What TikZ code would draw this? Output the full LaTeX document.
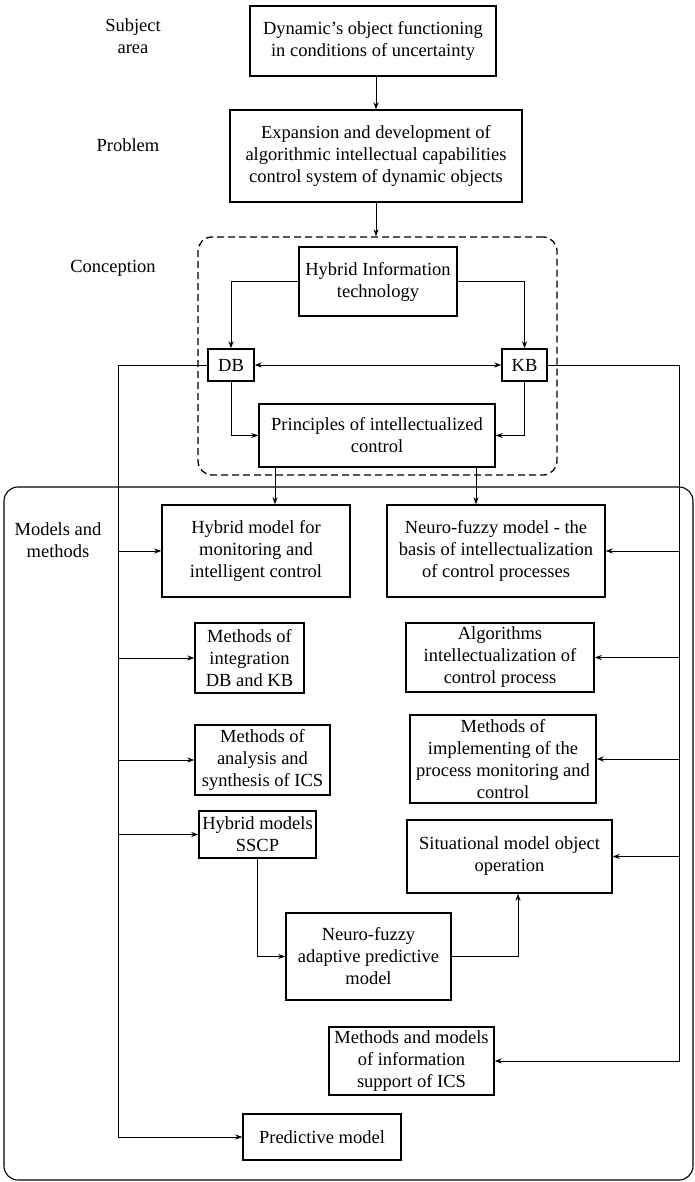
\documentclass[tikz,border=0pt]{standalone}
\usepackage{fontspec}
\setmainfont{Liberation Serif}
\newfontfamily\boxfont{Liberation Serif}
\usetikzlibrary{arrows.meta}
\begin{document}
\begin{tikzpicture}[x=1pt,y=-1pt,line width=1pt,>={Stealth[length=7pt,width=5pt]},
   box/.style={draw,line width=1.4pt,align=center,inner sep=1pt,font=\boxfont\fontsize{18.5}{22}\selectfont},
   lbl/.style={align=center,font=\boxfont\fontsize{18.5}{22}\selectfont}]
   \useasboundingbox (0,0) rectangle (695,1182);
   \node[draw,line width=1.1pt,rounded corners=14pt,minimum width=689pt,minimum height=693pt] (mm) at (348.5,833.5) {};
   \node[draw,line width=1.3pt,dash pattern=on 7pt off 4pt,rounded corners=14pt,minimum width=359pt,minimum height=238pt] (conc) at (377.5,356) {};
   \node[lbl] (lsubj) at (133,36) {Subject\\area};
   \node[lbl] (lprob) at (128,145) {Problem};
   \node[lbl] (lconc) at (113,268) {Conception};
   \node[lbl] (lmm) at (58,540) {Models and\\methods};
   \node[box,minimum width=246pt,minimum height=70pt] (subj) at (373,41) {Dynamic’s object functioning\\in conditions of uncertainty};
   \node[box,minimum width=292pt,minimum height=92pt] (prob) at (376,156) {Expansion and development of\\algorithmic intellectual capabilities\\control system of dynamic objects};
   \node[box,minimum width=158pt,minimum height=69pt] (hit) at (378,281.5) {Hybrid Information\\technology};
   \node[box,minimum width=46pt,minimum height=32pt] (db) at (231,365) {DB};
   \node[box,minimum width=45pt,minimum height=32pt] (kb) at (524.5,365) {KB};
   \node[box,minimum width=236pt,minimum height=63pt] (prin) at (377,435.5) {Principles of intellectualized\\control};
   \node[box,minimum width=188pt,minimum height=92pt] (hyb) at (256,551) {Hybrid model for\\monitoring and\\intelligent control};
   \node[box,minimum width=218pt,minimum height=92pt] (nfm) at (496,551) {Neuro-fuzzy model - the\\basis of intellectualization\\of control processes};
   \node[box,minimum width=109pt,minimum height=70pt] (mint) at (249.5,658) {Methods of\\integration\\DB and KB};
   \node[box,minimum width=188pt,minimum height=69pt] (alg) at (500,657.5) {Algorithms\\intellectualization of\\control process};
   \node[box,minimum width=135pt,minimum height=70pt] (mana) at (262.5,760) {Methods of\\analysis and\\synthesis of ICS};
   \node[box,minimum width=186pt,minimum height=88pt] (mimp) at (503,759) {Methods of\\implementing of the\\process monitoring and\\control};
   \node[box,minimum width=117pt,minimum height=47pt] (sscp) at (257.5,834.5) {Hybrid models\\SSCP};
   \node[box,minimum width=205pt,minimum height=73pt] (sit) at (509.5,856.5) {Situational model object\\operation};
   \node[box,minimum width=165pt,minimum height=87pt] (nfa) at (368.5,956.5) {Neuro-fuzzy\\adaptive predictive\\model};
   \node[box,minimum width=165pt,minimum height=68pt] (info) at (411.5,1061) {Methods and models\\of information\\support of ICS};
   \node[box,minimum width=158pt,minimum height=46pt] (pred) at (322,1137) {Predictive model};
   \coordinate (lt) at (118,365);
   \coordinate (rt) at (679,365);
   \draw[->] (subj.south -| prob.north) -- (prob.north);
   \draw[->] (prob.south) -- (prob.south |- conc.north);
   \draw[->] (hit.west) -| (db.north);
   \draw[->] (hit.east) -| (kb.north);
   \draw[<->] (db.east) -- (kb.west);
   \draw[->] (db.south) |- (prin.west);
   \draw[->] (kb.south) |- (prin.east);
   \draw[->] ([xshift=-102pt]prin.south) -- ([xshift=-102pt]prin.south |- hyb.north);
   \draw[->] ([xshift=99pt]prin.south) -- ([xshift=99pt]prin.south |- nfm.north);
   \draw[->] (db.west) -- (lt) |- (pred.west);
   \draw[->] (kb.east) -- (rt) |- (info.east);
   \draw[->] (lt |- hyb.west) -- (hyb.west);
   \draw[->] (lt |- mint.west) -- (mint.west);
   \draw[->] (lt |- mana.west) -- (mana.west);
   \draw[->] (lt |- sscp.west) -- (sscp.west);
   \draw[->] (rt |- nfm.east) -- (nfm.east);
   \draw[->] (rt |- alg.east) -- (alg.east);
   \draw[->] (rt |- mimp.east) -- (mimp.east);
   \draw[->] (rt |- sit.east) -- (sit.east);
   \draw[->] (sscp.south) |- (nfa.west);
   \draw[->] (nfa.east) -| ([xshift=8.5pt]sit.south);
\end{tikzpicture}
\end{document}
